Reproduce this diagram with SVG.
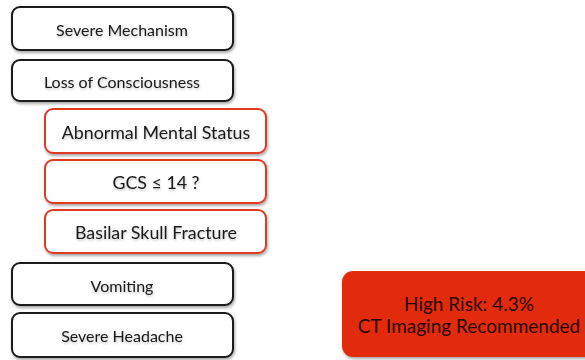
<svg xmlns="http://www.w3.org/2000/svg" width="585" height="360" viewBox="0 0 585 360">
<style>
.bk{fill:#fff;stroke:#1a1a1a;stroke-width:2}
.rd{fill:#fff;stroke:#e03a22;stroke-width:2}
.t{font-family:Lato,"Liberation Sans",Arial,sans-serif;fill:#1a1a1a;text-anchor:middle}
.s{font-size:16px}
.m{font-size:17.8px}
.l{font-size:19px;fill:#2a0800}
</style>
<defs>
<filter id="sh" x="-10%" y="-20%" width="130%" height="150%">
<feDropShadow dx="1" dy="2" stdDeviation="1.5" flood-color="#000" flood-opacity="0.35"/>
</filter>
<filter id="ts" x="-5%" y="-20%" width="110%" height="150%">
<feDropShadow dx="0.5" dy="1.5" stdDeviation="1" flood-color="#000" flood-opacity="0.25"/>
</filter>
</defs>
<g id="connectors"></g>
<g id="severe-mechanism">
<rect class="bk" x="12" y="7" width="221" height="43" rx="8" filter="url(#sh)"/>
<text class="t s" x="122" y="36" filter="url(#ts)">Severe Mechanism</text>
</g>
<g id="loss-of-consciousness">
<rect class="bk" x="12" y="60" width="221" height="41" rx="8" filter="url(#sh)"/>
<text class="t s" x="122" y="88" filter="url(#ts)">Loss of Consciousness</text>
</g>
<g id="abnormal-mental-status">
<rect class="rd" x="45" y="109" width="221" height="44" rx="8" filter="url(#sh)"/>
<text class="t m" x="156" y="139" filter="url(#ts)">Abnormal Mental Status</text>
</g>
<g id="gcs">
<rect class="rd" x="45" y="160" width="221" height="43" rx="8" filter="url(#sh)"/>
<text class="t m" x="156" y="189" filter="url(#ts)">GCS ≤ 14 ?</text>
</g>
<g id="basilar-skull-fracture">
<rect class="rd" x="45" y="210" width="221" height="43" rx="8" filter="url(#sh)"/>
<text class="t m" x="156" y="239" filter="url(#ts)">Basilar Skull Fracture</text>
</g>
<g id="vomiting">
<rect class="bk" x="12" y="263" width="221" height="42" rx="8" filter="url(#sh)"/>
<text class="t s" x="122" y="292" filter="url(#ts)">Vomiting</text>
</g>
<g id="severe-headache">
<rect class="bk" x="12" y="313" width="221" height="44" rx="8" filter="url(#sh)"/>
<text class="t s" x="122" y="342" filter="url(#ts)">Severe Headache</text>
</g>
<g id="high-risk">
<rect x="342" y="271" width="260" height="86" rx="11" fill="#e22b0b" filter="url(#sh)"/>
<text class="t l" x="469" y="311">High Risk: 4.3%</text>
<text class="t l" x="469" y="333">CT Imaging Recommended</text>
</g>
</svg>
